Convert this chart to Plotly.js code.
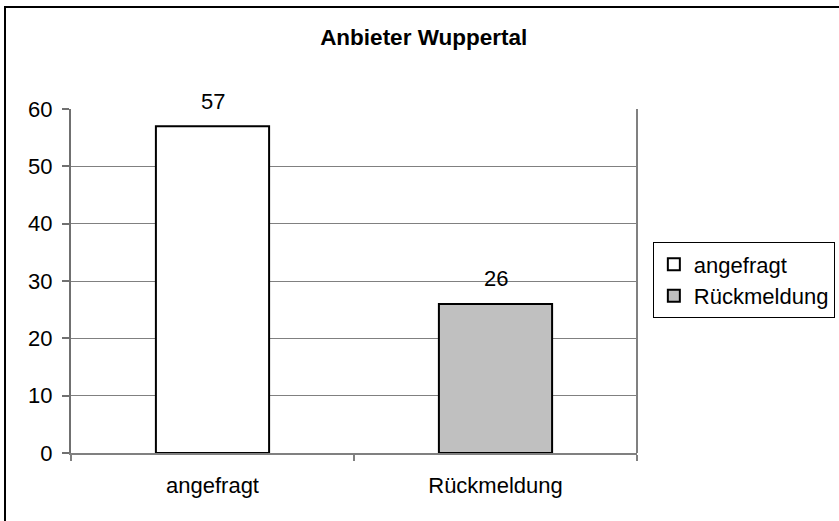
<!DOCTYPE html>
<html>
<head>
<meta charset="utf-8">
<script src="https://cdn.plot.ly/plotly-3.0.1.min.js"></script>
<style>
html,body{margin:0;padding:0;background:#fff;}
#wrap{position:relative;width:839px;height:521px;}
#chart{width:839px;height:521px;}
#frame{position:absolute;left:4px;top:6px;right:0;bottom:0;border-top:2px solid #000;border-left:2px solid #000;pointer-events:none;}
</style>
</head>
<body>
<div id="wrap"><div id="chart"></div><div id="frame"></div></div>
<script>
const categories = ["angefragt", "Rückmeldung"];
const seriesNames = ["angefragt", "Rückmeldung"];
const values = [57, 26];
const fillColors = ["#ffffff", "#c0c0c0"];
const yTicks = [0, 10, 20, 30, 40, 50, 60];

const font = "Arial, 'Liberation Sans', sans-serif";

const traces = seriesNames.map((name, i) => ({
  type: "bar",
  name: name,
  x: [categories[i]],
  y: [values[i]],
  width: 0.4,
  marker: {color: fillColors[i], line: {color: "#000", width: 2}},
  hoverinfo: "skip"
}));

const annotations = categories.map((c, i) => ({
  x: c, y: values[i], xref: "x", yref: "y",
  text: String(values[i]),
  showarrow: false,
  xanchor: "center", yanchor: "middle",
  yshift: 25,
  font: {family: font, size: 22, color: "#000"}
}));

const layout = {
  width: 839, height: 521,
  margin: {l: 71, r: 202, t: 109, b: 68, pad: 0, autoexpand: false},
  paper_bgcolor: "#fff",
  plot_bgcolor: "#fff",
  barmode: "overlay",
  showlegend: true,
  title: {
    text: "<b>Anbieter Wuppertal</b>",
    font: {family: font, size: 22.5, color: "#000"},
    x: 0.505, xanchor: "center",
    y: 0.929, yanchor: "middle"
  },
  xaxis: {
    type: "category",
    categoryorder: "array",
    categoryarray: categories,
    showgrid: false,
    showline: true, linecolor: "#808080", linewidth: 2,
    ticks: "outside", ticklen: 6, tickcolor: "#808080", tickwidth: 2,
    tickson: "boundaries",
    ticklabelstandoff: 12,
    tickfont: {family: font, size: 22, color: "#000"},
    fixedrange: true
  },
  yaxis: {
    range: [0, 60],
    tickvals: yTicks,
    ticktext: yTicks.map(String),
    showgrid: true, gridcolor: "#808080", gridwidth: 1,
    showline: true, linecolor: "#707070", linewidth: 2,
    ticks: "outside", ticklen: 7, tickcolor: "#707070", tickwidth: 2,
    ticklabelstandoff: 5,
    zeroline: false,
    tickfont: {family: font, size: 22, color: "#000"},
    fixedrange: true
  },
  shapes: [{
    type: "line", xref: "paper", yref: "paper",
    x0: 1, x1: 1, y0: 0, y1: 1,
    line: {color: "#808080", width: 2}
  }],
  annotations: annotations,
  legend: {
    x: 1.028, xanchor: "left",
    y: 0.612, yanchor: "top",
    bgcolor: "#fff",
    bordercolor: "#000", borderwidth: 1,
    font: {family: font, size: 22, color: "#000"},
    traceorder: "normal",
    itemwidth: 30
  }
};

Plotly.newPlot("chart", traces, layout, {staticPlot: true, displayModeBar: false});
</script>
</body>
</html>
